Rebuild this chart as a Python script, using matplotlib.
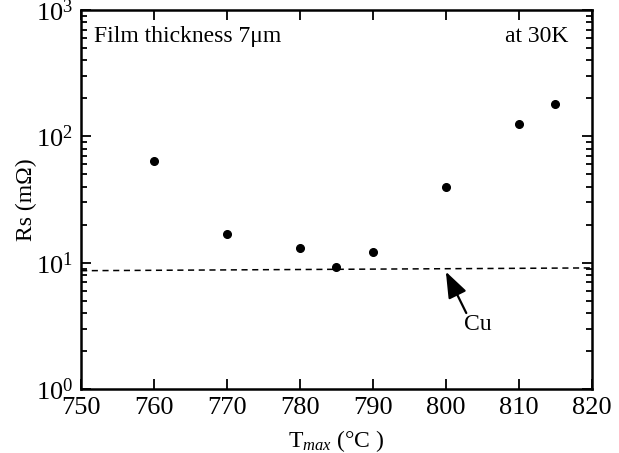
import matplotlib.pyplot as plt
import numpy as np

plt.rcParams['font.family'] = ['Liberation Serif', 'DejaVu Serif']
plt.rcParams['mathtext.fontset'] = 'custom'
plt.rcParams['mathtext.rm'] = 'Liberation Serif'
plt.rcParams['mathtext.it'] = 'Liberation Serif:italic'

# data
tmax = [760, 770, 780, 785, 790, 800, 810, 815]
rs = [64, 17, 13.1, 9.25, 12.1, 39.7, 126, 179]
cu_x = [750, 820]
cu_rs = [8.65, 9.1]

fig = plt.figure(figsize=(6.19, 4.53), dpi=100)
ax = fig.add_axes([0.131, 0.141, 0.825, 0.837])

ax.plot(tmax, rs, 'o', color='black', markersize=5.5)
ax.plot(cu_x, cu_rs, '--', color='black', linewidth=1.1, dashes=(4, 3))

ax.set_yscale('log')
ax.set_xlim(750, 820)
ax.set_ylim(1, 1000)
ax.set_xticks(np.arange(750, 821, 10))

ax.tick_params(which='both', direction='in', top=True, right=True, width=1.3)
ax.tick_params(which='major', length=7, labelsize=19, pad=6)
ax.tick_params(which='minor', length=4)
ax.tick_params(axis='x', which='minor', top=False, bottom=False)
for s in ax.spines.values():
    s.set_linewidth(1.8)

ax.set_xlabel(r'T$_{\mathit{max}}$ (°C )', fontsize=17, labelpad=6)
ax.set_ylabel('Rs (mΩ)', fontsize=17, labelpad=-1)

ax.text(0.025, 0.93, 'Film thickness 7μm', transform=ax.transAxes,
        fontsize=17, va='center', ha='left')
ax.text(0.955, 0.93, 'at 30K', transform=ax.transAxes,
        fontsize=17, va='center', ha='right')

# Cu label and arrow
ax.text(804.4, 3.25, 'Cu', fontsize=17, ha='center', va='center')
ax.annotate('', xy=(800, 8.5), xytext=(802.8, 4.0),
            arrowprops=dict(arrowstyle='-|>,head_length=0.8,head_width=0.3',
                            color='black', lw=1.6,
                            mutation_scale=20, shrinkA=0, shrinkB=0))

fig.savefig('out.png', dpi=100)
